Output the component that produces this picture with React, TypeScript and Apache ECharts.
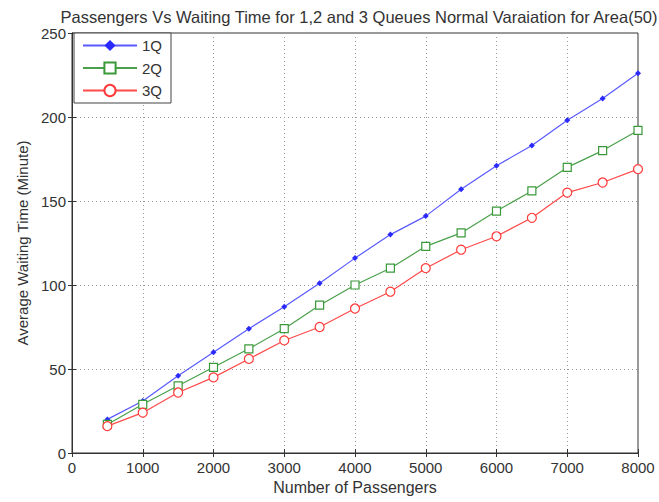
import React, { useEffect, useRef } from "react";
import * as echarts from "echarts";

const passengers = [500, 1000, 1500, 2000, 2500, 3000, 3500, 4000, 4500, 5000, 5500, 6000, 6500, 7000, 7500, 8000];
const q1 = [20, 31, 46, 60, 74, 87, 101, 116, 130, 141, 157, 171, 183, 198, 211, 226];
const q2 = [17, 29, 40, 51, 62, 74, 88, 100, 110, 123, 131, 144, 156, 170, 180, 192];
const q3 = [16, 24, 36, 45, 56, 67, 75, 86, 96, 110, 121, 129, 140, 155, 161, 169];
const seriesNames = ["1Q", "2Q", "3Q"];
const titleText = "Passengers Vs Waiting Time for 1,2 and 3 Queues Normal Varaiation for Area(50)";
const xName = "Number of Passengers";
const yName = "Average Waiting Time (Minute)";

const FONT = "Liberation Sans, Arial, sans-serif";

export default function App() {
  const ref = useRef<HTMLDivElement>(null);
  useEffect(() => {
    if (!ref.current) return;
    const chart = echarts.init(ref.current, undefined, { renderer: "svg" });
    const pair = (ys: number[]) => passengers.map((x, i) => [x, ys[i]]);
    const gridLine = { show: true, lineStyle: { color: "#999", type: [1, 3] as any, width: 1 } };
    const axisBase = {
      axisLine: { show: true, lineStyle: { color: "#333", width: 1 } },
      axisTick: { show: true, inside: true, length: 4, lineStyle: { color: "#333" } },
    };
    chart.setOption({
      animation: false,
      backgroundColor: "#fff",
      title: {
        text: titleText,
        left: 354,
        textAlign: "center",
        top: 3,
        textStyle: { fontFamily: FONT, fontSize: 16.5, fontWeight: "normal", color: "#333" },
      },
      grid: { left: 72, right: 21, top: 33, bottom: 49, show: true, borderColor: "#333", borderWidth: 1, backgroundColor: "#fff" },
      legend: {
        left: 74,
        top: 33,
        orient: "vertical",
        backgroundColor: "#fff",
        borderColor: "#444",
        borderWidth: 1,
        borderRadius: 0,
        padding: [5, 9, 5, 8],
        itemGap: 7.5,
        itemWidth: 54,
        itemHeight: 14,
        textStyle: { fontFamily: FONT, fontSize: 15, color: "#333" },
        data: seriesNames,
      },
      xAxis: [
        {
          type: "value",
          min: 0,
          max: 8000,
          interval: 1000,
          name: xName,
          nameLocation: "middle",
          nameGap: 25,
          nameTextStyle: { fontFamily: FONT, fontSize: 16, color: "#333" },
          axisLabel: { fontFamily: FONT, fontSize: 15, color: "#333", margin: 7, formatter: (v: number) => String(v) },
          splitLine: gridLine,
          ...axisBase,
        },
        {
          type: "value",
          position: "top",
          min: 0,
          max: 8000,
          interval: 1000,
          axisLabel: { show: false },
          splitLine: { show: false },
          ...axisBase,
        },
      ],
      yAxis: [
        {
          type: "value",
          min: 0,
          max: 250,
          interval: 50,
          name: yName,
          nameLocation: "middle",
          nameGap: 41,
          nameTextStyle: { fontFamily: FONT, fontSize: 15, color: "#333" },
          axisLabel: { fontFamily: FONT, fontSize: 15, color: "#333", margin: 6, formatter: (v: number) => String(v) },
          splitLine: gridLine,
          ...axisBase,
        },
        {
          type: "value",
          position: "right",
          min: 0,
          max: 250,
          interval: 50,
          axisLabel: { show: false },
          splitLine: { show: false },
          ...axisBase,
        },
      ],
      series: [
        {
          name: seriesNames[0],
          type: "line",
          data: pair(q1),
          symbol: "diamond",
          symbolSize: 6,
          itemStyle: { color: "#2a2aff" },
          lineStyle: { color: "#5a5aff", width: 1.2 },
        },
        {
          name: seriesNames[1],
          type: "line",
          data: pair(q2),
          symbol: "rect",
          symbolSize: 8,
          itemStyle: { color: "#fff", borderColor: "#3a9a3a", borderWidth: 1.2 },
          lineStyle: { color: "#4aa04a", width: 1.2 },
        },
        {
          name: seriesNames[2],
          type: "line",
          data: pair(q3),
          symbol: "circle",
          symbolSize: 9,
          itemStyle: { color: "#fff", borderColor: "#ff3a3a", borderWidth: 1.2 },
          lineStyle: { color: "#ff4a4a", width: 1.2 },
        },
      ],
    });
    return () => chart.dispose();
  }, []);
  return <div ref={ref} style={{ width: 659, height: 502, position: "absolute", left: 0, top: 0 }} />;
}
